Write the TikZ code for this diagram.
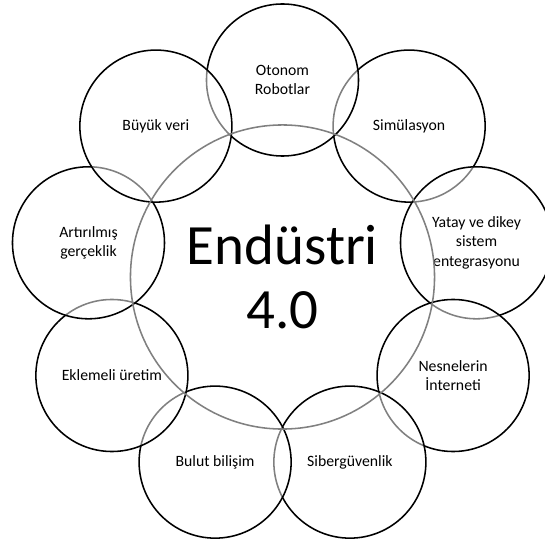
\documentclass[tikz,border=0pt]{standalone}
\usepackage{fontspec}
\setmainfont{Carlito}
\usepackage{tikz}
\usetikzlibrary{calc,shapes,positioning}
\tikzset{%
    venn/.style={%
        circle, draw=black, line width=1.1pt, fill=white, fill opacity=0.5, text opacity=1,
        minimum size=3.8cm, inner sep=0pt, align=center, font=\fontsize{11.2}{13.6}\selectfont
    },
    core/.style={%
        circle, draw=black!50, line width=1.1pt, minimum size=7.6cm, inner sep=0pt,
        align=center, font=\fontsize{40.5}{46}\selectfont
    },
}

\begin{document}
\begin{tikzpicture}[x=0.025cm, y=0.025cm]
    \clip (-282.5,-269) rectangle (262.5,277);

    \foreach \ang/\nm/\txt in {50/sim/Simülasyon, 10/yatay/{Yatay ve dikey\\sistem\\entegrasyonu},
        -30/nesne/{Nesnelerin\\İnterneti}, -70/siber/Sibergüvenlik, -110/bulut/Bulut bilişim,
        -150/eklemeli/Eklemeli üretim, 170/artirilmis/{Artırılmış\\gerçeklik},
        90/otonom/{Otonom\\Robotlar}, 130/buyuk/Büyük veri}
        \node[venn] (\nm) at (\ang:197) {\txt};

    \node[core] (endustri) at (0,0) {Endüstri\\4.0};
\end{tikzpicture}
\end{document}
